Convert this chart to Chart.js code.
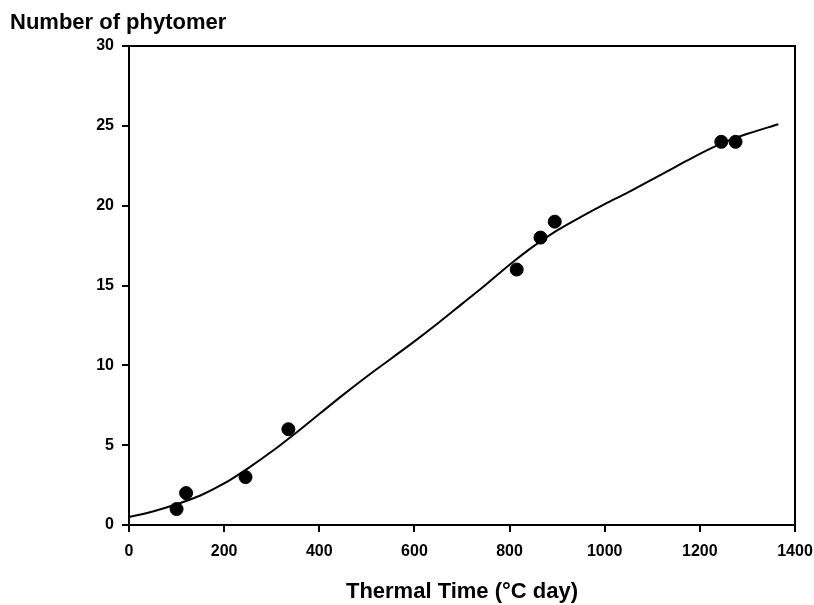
<!DOCTYPE html>
<html lang="en">
<head>
    <meta charset="UTF-8">
    <title>Number of phytomer vs Thermal Time</title>
    <script src="https://cdn.jsdelivr.net/npm/chart.js"></script>
    <style>
        html, body { margin: 0; padding: 0; background: #fff; }
        #wrap { width: 814px; height: 605px; }
    </style>
</head>
<body>
    <div id="wrap"><canvas id="chart"></canvas></div>

    <script>
        // observed points
        const obsTime = [100, 120, 245, 335, 815, 865, 895, 1245, 1275];
        const obsPhytomer = [1, 2, 3, 6, 16, 18, 19, 24, 24];

        // fitted curve
        const fitTime = [0, 50, 100, 150, 200, 250, 300, 350, 400, 450, 500, 550, 600, 650, 700,
            750, 800, 850, 900, 950, 1000, 1050, 1100, 1150, 1200, 1250, 1300, 1365];
        const fitPhytomer = [0.5, 0.85, 1.3, 1.85, 2.6, 3.55, 4.6, 5.75, 6.95, 8.15, 9.3, 10.4, 11.5, 12.65, 13.85,
            15.05, 16.3, 17.45, 18.45, 19.3, 20.1, 20.85, 21.65, 22.45, 23.25, 23.95, 24.5, 25.1];

        const xTicks = [0, 200, 400, 600, 800, 1000, 1200, 1400];
        const yTicks = [0, 5, 10, 15, 20, 25, 30];

        const font = 'Arial, "Liberation Sans", sans-serif';

        // frame round the plot area + the y title at top left
        const framePlugin = {
            id: 'frame',
            afterDraw(chart) {
                const { ctx, chartArea: a } = chart;
                ctx.save();
                ctx.strokeStyle = '#000';
                ctx.lineWidth = 2;
                ctx.strokeRect(a.left, a.top, a.right - a.left, a.bottom - a.top);
                ctx.fillStyle = '#000';
                ctx.font = 'bold 22px ' + font;
                ctx.textBaseline = 'alphabetic';
                ctx.fillText('Number of phytomer', 10, 29);
                ctx.restore();
            }
        };

        const ctx = document.getElementById('chart').getContext('2d');
        new Chart(ctx, {
            type: 'scatter',
            data: {
                datasets: [
                    {
                        label: 'Fit',
                        data: fitTime.map((t, i) => ({ x: t, y: fitPhytomer[i] })),
                        showLine: true,
                        borderColor: '#000',
                        borderWidth: 2,
                        pointRadius: 0,
                        cubicInterpolationMode: 'monotone',
                        fill: false
                    },
                    {
                        label: 'Observed',
                        data: obsTime.map((t, i) => ({ x: t, y: obsPhytomer[i] })),
                        backgroundColor: '#000',
                        borderColor: '#000',
                        pointRadius: 6.5,
                        pointHoverRadius: 6.5
                    }
                ]
            },
            options: {
                responsive: true,
                maintainAspectRatio: false,
                animation: false,
                layout: { padding: { left: 0, right: 19, top: 46, bottom: 0 } },
                plugins: {
                    legend: { display: false },
                    tooltip: { enabled: false }
                },
                scales: {
                    x: {
                        type: 'linear',
                        min: 0,
                        max: 1400,
                        afterBuildTicks: s => { s.ticks = xTicks.map(v => ({ value: v })); },
                        afterFit: s => { s.height = 80; s.paddingLeft = 0; s.paddingRight = 0; },
                        border: { color: '#000', width: 2 },
                        grid: { drawOnChartArea: false, color: '#000', lineWidth: 2, tickLength: 7 },
                        ticks: {
                            color: '#000',
                            font: { family: font, size: 16, weight: 'bold' },
                            padding: 10,
                            maxRotation: 0,
                            callback: v => String(v)
                        },
                        title: {
                            display: true,
                            text: 'Thermal Time (°C day)',
                            color: '#000',
                            font: { family: font, size: 22, weight: 'bold' },
                            padding: { top: 0, bottom: 0 }
                        }
                    },
                    y: {
                        type: 'linear',
                        min: 0,
                        max: 30,
                        afterBuildTicks: s => { s.ticks = yTicks.map(v => ({ value: v })); },
                        afterFit: s => { s.width = 129; s.paddingTop = 0; s.paddingBottom = 0; },
                        border: { color: '#000', width: 2 },
                        grid: { drawOnChartArea: false, color: '#000', lineWidth: 2, tickLength: 7 },
                        ticks: {
                            color: '#000',
                            font: { family: font, size: 16, weight: 'bold' },
                            padding: 8,
                            callback: v => String(v)
                        }
                    }
                }
            },
            plugins: [framePlugin]
        });
    </script>
</body>
</html>
